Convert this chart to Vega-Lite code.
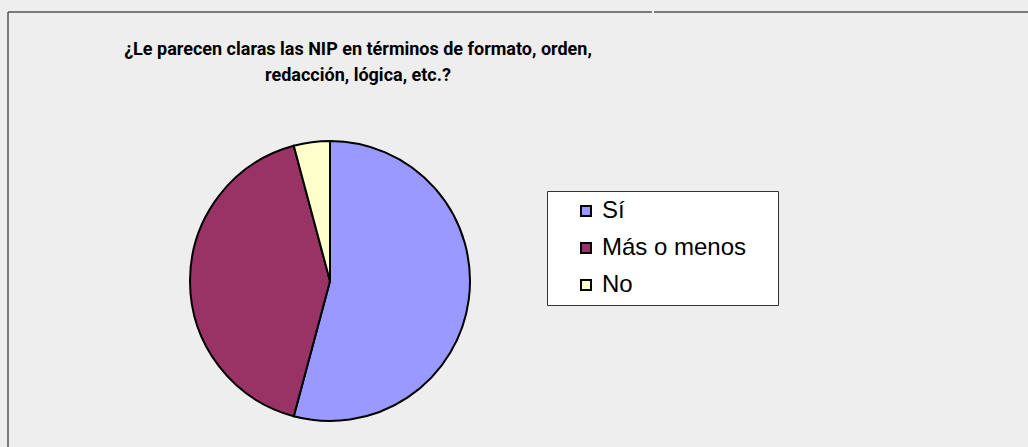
{
  "$schema": "https://vega.github.io/schema/vega-lite/v6.json",
  "background": "#eeeeee",
  "padding": {"left": 7, "top": 11, "right": 0, "bottom": 0},
  "spacing": 0,
  "config": {
    "font": "Liberation Sans",
    "legend": {"labelFont": "Liberation Sans"}
  },
  "hconcat": [
    {
      "width": 644,
      "height": 538,
      "view": {"fill": "#eeeeee", "stroke": "#555555", "strokeWidth": 1.5, "strokeDash": [644, 1182, 538, 0]},
      "title": {
        "text": ["¿Le parecen claras las NIP en términos de formato, orden,", "redacción, lógica, etc.?"],
        "font": "Roboto",
        "fontWeight": "bold",
        "fontSize": 18,
        "lineHeight": 26,
        "color": "#000000",
        "anchor": "middle",
        "frame": "group",
        "dx": 28,
        "dy": 77
      },
      "data": {
        "values": [
          {"respuesta": "Sí", "n": 13},
          {"respuesta": "Más o menos", "n": 10},
          {"respuesta": "No", "n": 1}
        ]
      },
      "mark": {"type": "arc", "radius": 140, "stroke": "#000000", "strokeWidth": 2},
      "encoding": {
        "theta": {"field": "n", "type": "quantitative", "stack": true},
        "color": {
          "field": "respuesta",
          "type": "nominal",
          "sort": ["Sí", "Más o menos", "No"],
          "scale": {"domain": ["Sí", "Más o menos", "No"], "range": ["#9999FF", "#993366", "#FFFFCC"]},
          "legend": {
            "title": "\u2003\u2003",
            "titleOrient": "right",
            "titleFontSize": 12,
            "titlePadding": 24,
            "orient": "none",
            "legendX": 539,
            "legendY": 179,
            "fillColor": "#ffffff",
            "strokeColor": "#333333",
            "padding": 8,
            "symbolOffset": 19,
            "symbolType": "square",
            "symbolSize": 100,
            "symbolStrokeColor": "#000000",
            "symbolStrokeWidth": 2,
            "labelFontSize": 24,
            "labelColor": "#000000",
            "labelOffset": 4,
            "rowPadding": 13,
            "labelLimit": 400
          }
        },
        "order": {"field": "n", "type": "quantitative", "sort": "descending"}
      }
    },
    {
      "width": 420,
      "height": 538,
      "view": {"fill": "#eeeeee", "stroke": "#555555", "strokeWidth": 1.5, "strokeDash": [420, 100000]},
      "data": {"values": []},
      "mark": "point",
      "encoding": {}
    }
  ]
}
